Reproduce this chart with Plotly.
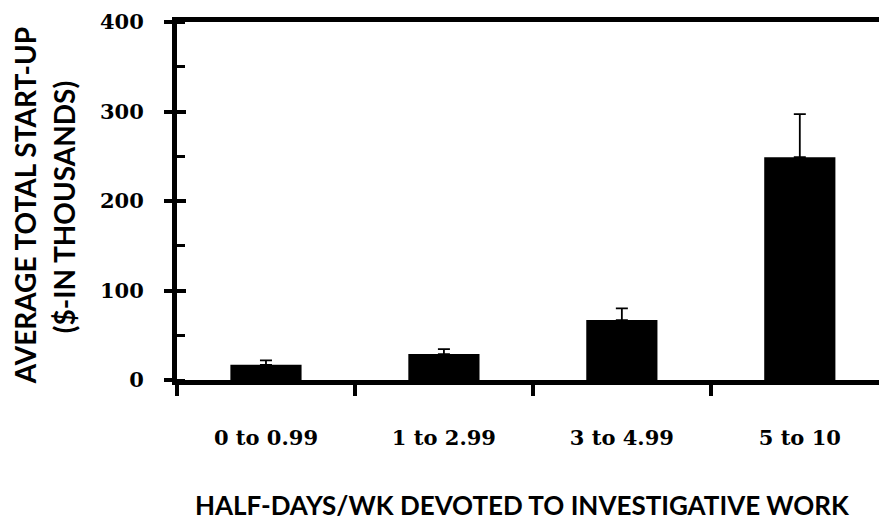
import plotly.graph_objects as go

categories = ["0 to 0.99", "1 to 2.99", "3 to 4.99", "5 to 10"]
means = [17, 29, 67, 249]
errors_plus = [5, 5.5, 13, 48]
y_ticks = [0, 100, 200, 300, 400]

fig = go.Figure()
fig.add_trace(go.Bar(
    x=categories, y=means, width=0.4,
    marker=dict(color="black", line=dict(width=0)),
    error_y=dict(type="data", symmetric=False, array=errors_plus,
                 arrayminus=[0] * len(means), color="black", thickness=1.8, width=6),
))
# invisible helper trace on an overlay axis, used only for the inner half of the major ticks
fig.add_trace(go.Scatter(x=categories, y=means, yaxis="y2", mode="markers",
                         marker=dict(opacity=0), hoverinfo="skip", showlegend=False))

serif = "DejaVu Serif"
sans = "Lato"

fig.update_layout(
    width=879, height=515,
    margin=dict(l=169, r=0, t=14, b=143),
    paper_bgcolor="white", plot_bgcolor="white",
    showlegend=False,
    xaxis=dict(
        type="category", range=[-0.5, 3.49], tickson="boundaries",
        showline=True, linecolor="black", linewidth=5, mirror=True,
        ticks="outside", ticklen=11, tickwidth=4, tickcolor="black",
        showgrid=False, zeroline=False,
        tickfont=dict(family=serif, size=21, color="black", weight="bold"),
        ticklabelstandoff=35,
    ),
    yaxis=dict(
        range=[0, 400], tickvals=y_ticks,
        showline=True, linecolor="black", linewidth=5,
        ticks="outside", ticklen=8, tickwidth=4, tickcolor="black",
        minor=dict(ticks="inside", dtick=50, ticklen=8, tickwidth=3, tickcolor="black", showgrid=False),
        showgrid=False, zeroline=False,
        tickfont=dict(family=serif, size=21, color="black", weight="bold"),
        ticklabelstandoff=16,
    ),
    yaxis2=dict(
        range=[0, 400], tickvals=y_ticks, overlaying="y", side="left",
        showline=False, ticks="inside", ticklen=9, tickwidth=4, tickcolor="black",
        showticklabels=False, showgrid=False, zeroline=False,
    ),
    annotations=[
        dict(text="AVERAGE TOTAL START-UP", xref="paper", yref="paper",
             x=-0.2148, y=0.487, xanchor="center", yanchor="middle", textangle=-90,
             showarrow=False, font=dict(family=sans, size=28, color="black", weight="bold")),
        dict(text="($-IN THOUSANDS)", xref="paper", yref="paper",
             x=-0.159, y=0.483, xanchor="center", yanchor="middle", textangle=-90,
             showarrow=False, font=dict(family=sans, size=28, color="black", weight="bold")),
        dict(text="HALF-DAYS/WK DEVOTED TO INVESTIGATIVE WORK", xref="paper", yref="paper",
             x=0.486, y=-0.349, xanchor="center", yanchor="middle",
             showarrow=False, font=dict(family=sans, size=26, color="black", weight="bold")),
    ],
)

fig.write_html("out.html")
